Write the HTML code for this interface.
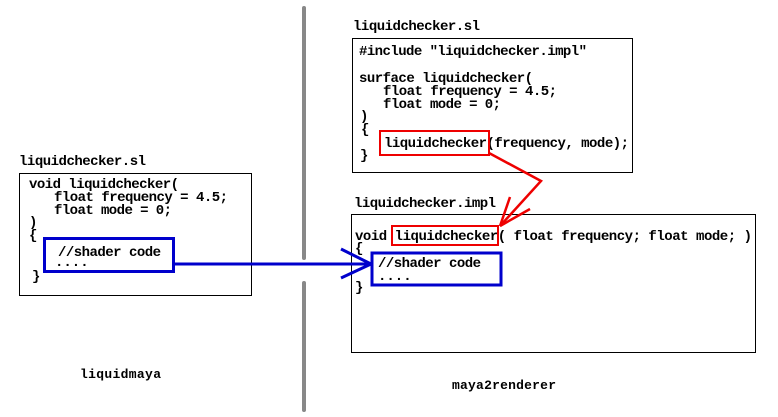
<!DOCTYPE html>
<html><head><style>
html,body{margin:0;padding:0;background:#fff;}
svg{display:block}
text{font-family:"Liberation Mono",monospace;font-weight:bold;font-size:14px;fill:#000;white-space:pre}
</style></head><body>
<svg width="778" height="417" viewBox="0 0 778 417" xmlns="http://www.w3.org/2000/svg">
<line x1="304" y1="8" x2="304" y2="258" stroke="#888" stroke-width="4" stroke-linecap="round"/>
<line x1="304" y1="283" x2="304" y2="410" stroke="#888" stroke-width="4" stroke-linecap="round"/>

<text x="353" y="30" textLength="127">liquidchecker.sl</text>
<rect x="352.5" y="38.5" width="280" height="134" fill="none" stroke="#000"/>
<text x="359" y="55" textLength="228">#include "liquidchecker.impl"</text>
<text x="359" y="82" textLength="174">surface liquidchecker(</text>
<text x="383" y="95" textLength="174">float frequency = 4.5;</text>
<text x="383" y="108" textLength="118">float mode = 0;</text>
<text x="360" y="120">)</text>
<text x="361" y="133">{</text>
<text x="384" y="147" textLength="245">liquidchecker(frequency, mode);</text>
<text x="360" y="159">}</text>
<rect x="380" y="131" width="109" height="24" fill="none" stroke="#e00" stroke-width="2"/>

<text x="354" y="207" textLength="142">liquidchecker.impl</text>
<rect x="351.5" y="214.5" width="404" height="138" fill="none" stroke="#000"/>
<text x="355" y="240" textLength="397">void liquidchecker( float frequency; float mode; )</text>
<text x="355" y="252">{</text>
<text x="378" y="267" textLength="103">//shader code</text>
<text x="378" y="280">....</text>
<text x="355" y="291">}</text>
<rect x="392" y="226" width="106" height="19" fill="none" stroke="#e00" stroke-width="2"/>
<rect x="372" y="253" width="129" height="32" fill="none" stroke="#00c" stroke-width="3"/>

<text x="19" y="165" textLength="127">liquidchecker.sl</text>
<rect x="19.5" y="173.5" width="232" height="122" fill="none" stroke="#000"/>
<text x="29" y="188" textLength="150">void liquidchecker(</text>
<text x="54" y="201" textLength="174">float frequency = 4.5;</text>
<text x="54" y="214" textLength="118">float mode = 0;</text>
<text x="29" y="226">)</text>
<text x="29" y="239">{</text>
<text x="58" y="256" textLength="103">//shader code</text>
<text x="55" y="266">....</text>
<text x="32" y="280">}</text>
<rect x="44.5" y="238.5" width="129" height="33" fill="none" stroke="#00c" stroke-width="3"/>

<polyline points="174,264 371,264" fill="none" stroke="#00c" stroke-width="3"/>
<line x1="341" y1="249" x2="371" y2="264" stroke="#00c" stroke-width="3"/>
<line x1="341" y1="278" x2="371" y2="264" stroke="#00c" stroke-width="3"/>

<polyline points="489,153 541,181 500,226" fill="none" stroke="#e00" stroke-width="2.5"/>
<line x1="500" y1="226" x2="510" y2="197" stroke="#e00" stroke-width="2.5"/>
<line x1="500" y1="226" x2="530" y2="209" stroke="#e00" stroke-width="2.5"/>

<text x="80" y="378" textLength="81" style="font-size:13px">liquidmaya</text>
<text x="452" y="389" textLength="104" style="font-size:13px">maya2renderer</text>
</svg>
</body></html>
